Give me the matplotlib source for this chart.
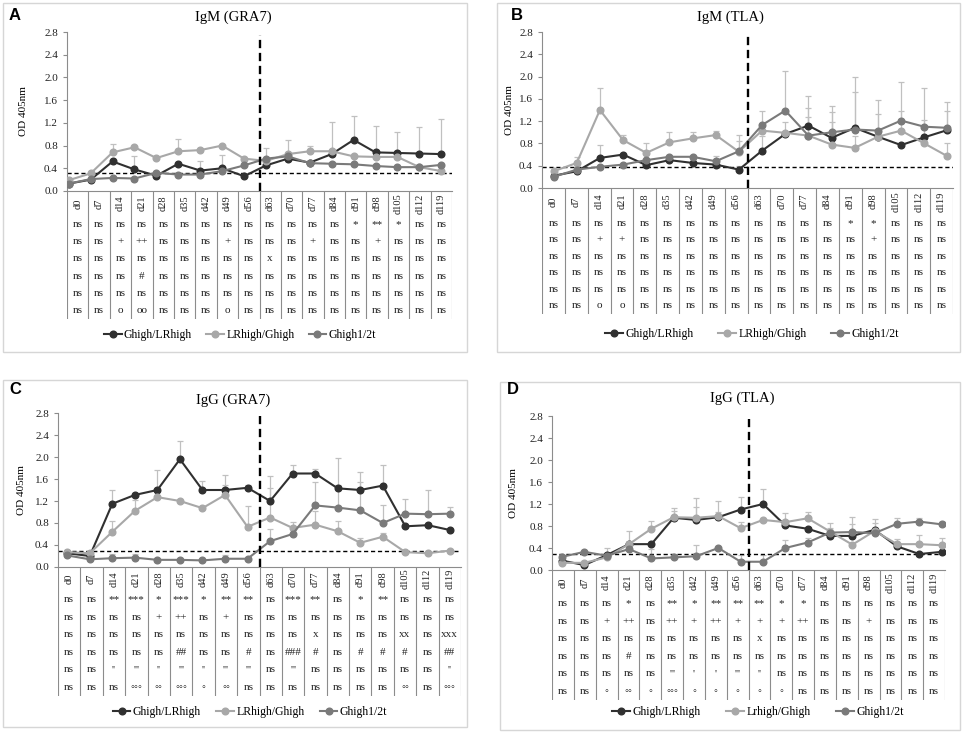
import numpy as np
import matplotlib
matplotlib.use('Agg')
import matplotlib.pyplot as plt
from matplotlib.patches import Rectangle

W, H = 969, 739
plt.rcParams['font.family'] = ['Liberation Serif', 'DejaVu Serif']

days = ['d0', 'd7', 'd14', 'd21', 'd28', 'd35', 'd42', 'd49', 'd56', 'd63',
        'd70', 'd77', 'd84', 'd91', 'd98', 'd105', 'd112', 'd119']

# --- A: IgM (GRA7)
a_high = [0.13, 0.20, 0.52, 0.38, 0.27, 0.48, 0.36, 0.40, 0.26, 0.45, 0.57, 0.50, 0.65, 0.90, 0.68, 0.67, 0.66, 0.65]
a_lr = [0.19, 0.31, 0.68, 0.77, 0.58, 0.70, 0.72, 0.80, 0.57, 0.53, 0.65, 0.70, 0.70, 0.61, 0.60, 0.60, 0.42, 0.35]
a_half = [0.13, 0.21, 0.23, 0.22, 0.32, 0.29, 0.29, 0.35, 0.45, 0.57, 0.61, 0.49, 0.48, 0.47, 0.44, 0.42, 0.42, 0.46]
a_high_err = [0, 0, 0, 0.23, 0, 0, 0.17, 0.23, 0, 0, 0, 0, 0.57, 0.42, 0.46, 0.37, 0.46, 0.61]
a_lr_err = [0, 0, 0.14, 0, 0, 0.22, 0, 0, 0, 0.22, 0.25, 0.10, 0, 0, 0, 0, 0, 0]
a_half_err = [0] * 18
a_thr = 0.31
a_table = ["ns ns ns ns ns ns ns ns ns ns ns ns ns * ** * ns ns",
           "ns ns + ++ ns ns ns + ns ns ns + ns ns + ns ns ns",
           "ns ns ns ns ns ns ns ns ns x ns ns ns ns ns ns ns ns",
           "ns ns ns # ns ns ns ns ns ns ns ns ns ns ns ns ns ns",
           "ns ns ns ns ns ns ns ns ns ns ns ns ns ns ns ns ns ns",
           "ns ns o oo ns ns ns o ns ns ns ns ns ns ns ns ns ns"]

# --- B: IgM (TLA)
b_high = [0.22, 0.30, 0.54, 0.60, 0.41, 0.50, 0.45, 0.42, 0.33, 0.67, 0.97, 1.12, 0.90, 1.08, 0.92, 0.77, 0.91, 1.04]
b_lr = [0.30, 0.45, 1.40, 0.86, 0.63, 0.82, 0.89, 0.95, 0.65, 1.03, 0.99, 0.94, 0.78, 0.72, 0.92, 1.03, 0.80, 0.57]
b_half = [0.20, 0.33, 0.38, 0.42, 0.50, 0.56, 0.56, 0.48, 0.66, 1.13, 1.39, 0.94, 1.00, 1.05, 1.03, 1.21, 1.10, 1.08]
b_high_err = [0, 0, 0.23, 0, 0, 0, 0, 0.15, 0.07, 0.26, 0, 0.54, 0.46, 0.64, 0.40, 0, 0.31, 0.34]
b_lr_err = [0, 0.10, 0.40, 0.10, 0.17, 0.18, 0.12, 0.08, 0.19, 0, 0.19, 0.50, 0.41, 0.21, 0, 0.35, 0, 0.24]
b_half_err = [0, 0, 0, 0, 0, 0, 0, 0, 0.30, 0.25, 0.71, 0.34, 0.48, 0.95, 0.55, 0.69, 0.70, 0.47]
b_thr = 0.37
b_table = ["ns ns ns ns ns ns ns ns ns ns ns ns ns * * ns ns ns",
           "ns ns + + ns ns ns ns ns ns ns ns ns ns + ns ns ns",
           "ns ns ns ns ns ns ns ns ns ns ns ns ns ns ns ns ns ns",
           "ns ns ns ns ns ns ns ns ns ns ns ns ns ns ns ns ns ns",
           "ns ns ns ns ns ns ns ns ns ns ns ns ns ns ns ns ns ns",
           "ns ns o o ns ns ns ns ns ns ns ns ns ns ns ns ns ns"]

# --- C: IgG (GRA7)
c_high = [0.25, 0.20, 1.15, 1.31, 1.40, 1.96, 1.40, 1.40, 1.44, 1.20, 1.70, 1.70, 1.43, 1.40, 1.48, 0.74, 0.76, 0.67]
c_lr = [0.27, 0.25, 0.64, 1.02, 1.27, 1.20, 1.07, 1.31, 0.73, 0.90, 0.71, 0.77, 0.65, 0.44, 0.55, 0.27, 0.25, 0.30]
c_half = [0.21, 0.14, 0.16, 0.17, 0.13, 0.13, 0.12, 0.15, 0.15, 0.47, 0.60, 1.12, 1.08, 1.03, 0.80, 0.97, 0.96, 0.97]
c_high_err = [0, 0, 0.25, 0, 0.36, 0.34, 0.17, 0.28, 0.05, 0.46, 0.15, 0.08, 0.56, 0.32, 0.38, 0, 0, 0]
c_lr_err = [0, 0, 0.20, 0.19, 0, 0, 0, 0.18, 0.38, 0.54, 0, 0.24, 0.19, 0.08, 0.07, 0, 0, 0]
c_half_err = [0, 0, 0.08, 0.06, 0, 0, 0, 0.06, 0, 0.23, 0.22, 0.43, 0.42, 0.52, 0.33, 0.27, 0.44, 0.12]
c_thr = 0.30
c_table = ["ns ns ** *** * *** * ** ** ns *** ** ns * ** ns ns ns",
           "ns ns ns ns + ++ ns + ns ns ns ns ns ns ns ns ns ns",
           "ns ns ns ns ns ns ns ns ns ns ns x ns ns ns xx ns xxx",
           "ns ns ns ns ns ## ns ns # ns ### # ns # # # ns ##",
           "ns ns '' ''' '' ''' '' ''' ''' ns ''' ns ns ns ns ns ns ''",
           "ns ns ns ◦◦◦ ◦◦ ◦◦◦ ◦ ◦◦ ns ns ns ns ns ns ns ◦◦ ns ◦◦◦"]

# --- D: IgG (TLA)
d_high = [0.17, 0.09, 0.27, 0.47, 0.47, 0.95, 0.91, 0.96, 1.10, 1.20, 0.81, 0.75, 0.62, 0.62, 0.73, 0.43, 0.29, 0.33]
d_lr = [0.13, 0.13, 0.23, 0.47, 0.75, 0.96, 0.95, 0.98, 0.76, 0.91, 0.87, 0.94, 0.70, 0.46, 0.71, 0.47, 0.47, 0.45]
d_half = [0.24, 0.33, 0.26, 0.38, 0.21, 0.23, 0.25, 0.40, 0.15, 0.15, 0.40, 0.50, 0.68, 0.69, 0.67, 0.84, 0.88, 0.83]
d_high_err = [0, 0, 0, 0, 0, 0.13, 0.23, 0.10, 0.22, 0.28, 0, 0, 0, 0.22, 0.13, 0, 0, 0]
d_lr_err = [0, 0, 0, 0.24, 0.14, 0.17, 0.36, 0.28, 0.12, 0, 0.16, 0.11, 0.07, 0, 0.22, 0.09, 0.16, 0.13]
d_half_err = [0, 0, 0.14, 0, 0.17, 0, 0.20, 0, 0.13, 0.13, 0.14, 0.08, 0.17, 0.27, 0, 0.11, 0.07, 0.05]
d_thr = 0.29
d_table = ["ns ns ns * ns ** * ** ** ** * * ns ns ns ns ns ns",
           "ns ns + ++ ns ++ + ++ + + + ++ ns ns + ns ns ns",
           "ns ns ns ns ns ns ns ns ns x ns ns ns ns ns ns ns ns",
           "ns ns ns # ns ns ns ns ns ns ns ns ns ns ns ns ns ns",
           "ns ns ns ns ns ''' ' ' ''' '' ns ns ns ns ns ns ns ns",
           "ns ns ◦ ◦◦ ◦ ◦◦◦ ◦ ◦ ◦ ◦ ◦ ns ns ns ns ns ns ns"]

labels_abc = ['Ghigh/LRhigh', 'LRhigh/Ghigh', 'Ghigh1/2t']
labels_d = ['Ghigh/LRhigh', 'Lrhigh/Ghigh', 'Ghigh1/2t']
colors = ['#303030', '#a8a8a8', '#7a7a7a']


def fx(px):
    return px / W


def fy(py):
    return 1 - py / H


fig = plt.figure(figsize=(W / 100, H / 100), dpi=100)


def draw_panel(letter, title, series, errs, labels, table, thr, geo):
    bx0, by0, bx1, by1 = geo['box']
    fig.patches.append(Rectangle((fx(bx0), fy(by1)), (bx1 - bx0) / W, (by1 - by0) / H,
                                 transform=fig.transFigure, fill=False, ec='#d6d6d6', lw=1))
    l, r, yt, y0 = geo['plot']
    ax = fig.add_axes([fx(l), fy(y0), (r - l) / W, (y0 - yt) / H])
    x = np.arange(len(days))
    for vals, err in zip(series, errs):
        vals = np.array(vals)
        err = np.array(err)
        m = err > 0
        ax.errorbar(x[m], vals[m], yerr=[np.zeros(m.sum()), err[m]], fmt='none',
                    ecolor='#c0c0c0', elinewidth=0.9, capsize=2.5, capthick=0.9, zorder=1)
    handles = []
    for vals, c, lab in zip(series, colors, labels):
        h, = ax.plot(x, vals, '-o', color=c, lw=1.5, ms=4.8, label=lab, zorder=3)
        handles.append(h)
    lo, hi = geo['xlim']
    ax.set_xlim(lo, hi)
    ax.set_ylim(0, 2.8)
    ax.axhline(thr, ls=(0, (3, 2)), color='black', lw=1.0, zorder=2)
    xm = lo + 0.5 * (hi - lo)
    ax.plot([xm, xm], [0, 2.75], ls=(0, (3.5, 2)), color='black', lw=1.7, zorder=4)
    for s in ['top', 'right']:
        ax.spines[s].set_visible(False)
    for s in ['left', 'bottom']:
        ax.spines[s].set_color('#8c8c8c')
        ax.spines[s].set_linewidth(0.8)
    ax.set_xticks([])
    ax.set_yticks(np.arange(0, 2.81, 0.4))
    ax.set_yticklabels(['%.1f' % v for v in np.arange(0, 2.81, 0.4)])
    ax.tick_params(axis='y', labelsize=8, length=3, color='#8c8c8c', labelcolor='#222222')
    ax.patch.set_visible(False)

    # table under the axis
    tb = geo['tbottom']
    hh = geo['header']
    th = tb - y0
    tax = fig.add_axes([fx(l), fy(tb), (r - l) / W, th / H])
    tax.set_xlim(0, len(days))
    tax.set_ylim(th, 0)
    tax.axis('off')
    for k in range(len(days) + 1):
        tax.plot([k, k], [0, th], color='#8c8c8c', lw=0.8)
    for i, d in enumerate(days):
        tax.text(i + 0.5, hh / 2, d, rotation=90, ha='center', va='center', fontsize=7.5, color='#222222')
    rh = (th - hh) / len(table)
    for j, row in enumerate(table):
        for i, s in enumerate(row.split()):
            tax.text(i + 0.5, hh + (j + 0.5) * rh, s, ha='center', va='center',
                     fontsize=8, color='#222222')

    fig.text(fx(geo['title'][0]), fy(geo['title'][1]), title, ha='center', va='center', fontsize=10.5)
    fig.text(fx(geo['letter'][0]), fy(geo['letter'][1]), letter, ha='center', va='center',
             fontsize=12, fontweight='bold', family='Liberation Sans')
    fig.text(fx(geo['ylab']), fy((yt + y0) / 2), 'OD 405nm', rotation=90, ha='center', va='center', fontsize=8)
    fig.legend(handles=handles, loc='center', ncol=3, frameon=False, fontsize=8.5,
               bbox_to_anchor=(fx(geo['legend'][0]), fy(geo['legend'][1])),
               handlelength=1.5, columnspacing=geo['colsp'], handletextpad=0.2, borderaxespad=0)


geo_a = dict(box=(3, 3, 467, 352), plot=(67, 452, 32, 191), tbottom=319, header=25,
             xlim=(-0.08, 17.49), title=(233, 17), letter=(15, 15), ylab=23, legend=(240, 335), colsp=1.2)
geo_b = dict(box=(497, 3, 960, 352), plot=(542, 953, 32, 188), tbottom=314, header=27,
             xlim=(-0.50, 17.24), title=(730, 17), letter=(517, 15), ylab=510, legend=(752, 334), colsp=2.1)
geo_c = dict(box=(3, 380, 467, 727), plot=(58, 461, 413, 567), tbottom=696, header=24,
             xlim=(-0.41, 17.47), title=(233, 400), letter=(15, 390), ylab=22, legend=(250, 712), colsp=1.3)
geo_d = dict(box=(500, 382, 960, 730), plot=(552, 945, 416, 570), tbottom=700, header=25,
             xlim=(-0.45, 17.15), title=(742, 398), letter=(513, 390), ylab=513, legend=(758, 712), colsp=2.2)

draw_panel('A', 'IgM (GRA7)', [a_high, a_lr, a_half], [a_high_err, a_lr_err, a_half_err],
           labels_abc, a_table, a_thr, geo_a)
draw_panel('B', 'IgM (TLA)', [b_high, b_lr, b_half], [b_high_err, b_lr_err, b_half_err],
           labels_abc, b_table, b_thr, geo_b)
draw_panel('C', 'IgG (GRA7)', [c_high, c_lr, c_half], [c_high_err, c_lr_err, c_half_err],
           labels_abc, c_table, c_thr, geo_c)
draw_panel('D', 'IgG (TLA)', [d_high, d_lr, d_half], [d_high_err, d_lr_err, d_half_err],
           labels_d, d_table, d_thr, geo_d)

fig.savefig('out.png', dpi=100)
